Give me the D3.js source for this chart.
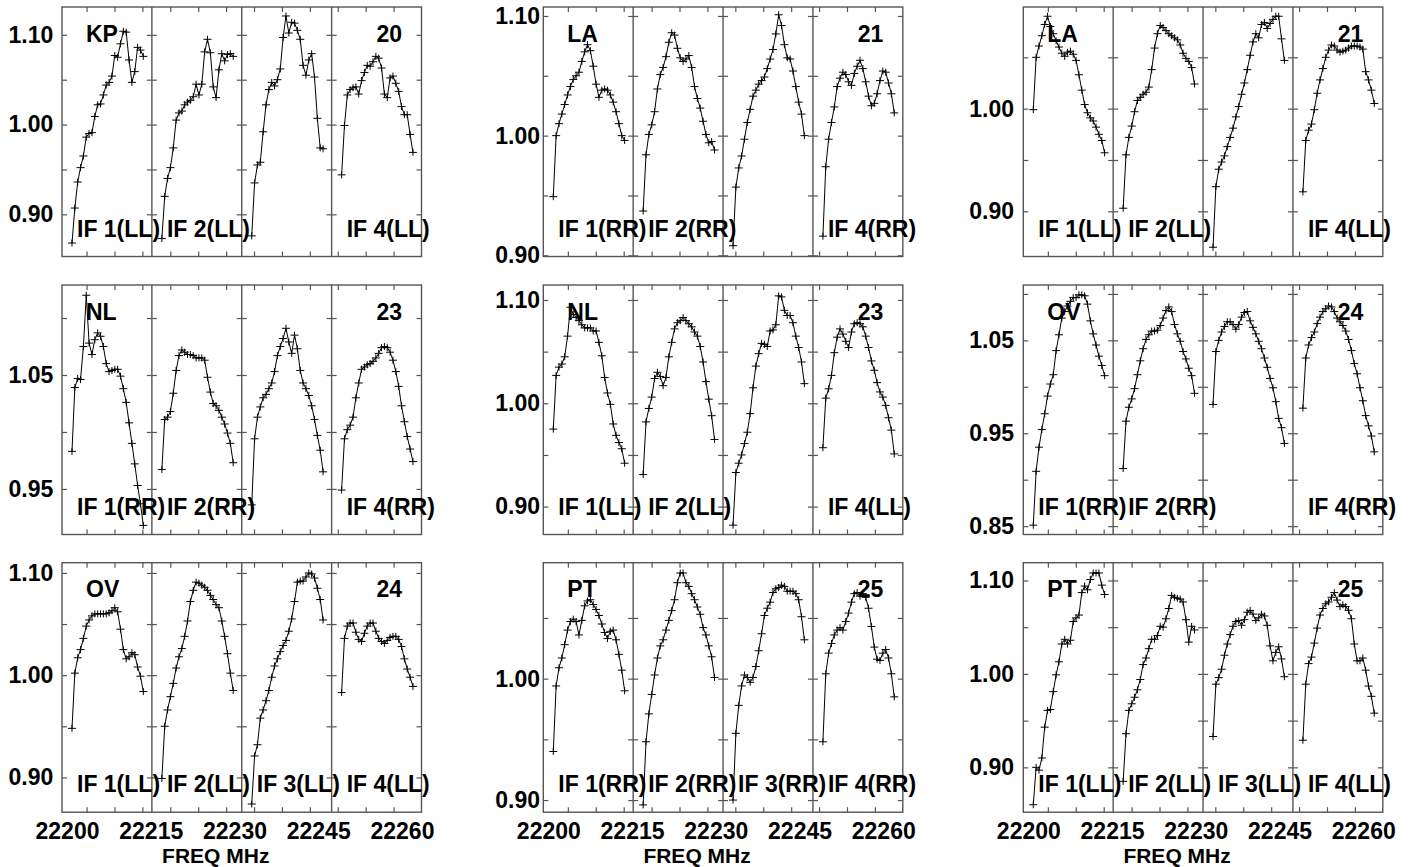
<!DOCTYPE html>
<html><head><meta charset="utf-8">
<script src="https://cdn.jsdelivr.net/npm/d3@7"></script>
<style>
html,body{margin:0;padding:0;background:#fff;}
svg{display:block;}
text{font-family:"Liberation Sans",Arial,Helvetica,sans-serif;font-weight:bold;font-size:23px;fill:#000;}
</style></head><body>
<svg id="chart" width="1417" height="867"></svg>
<script>
// ---------- data ----------
const channels = [3,4,5,6,7,8,9,10,11,12,13,14,15,16,17,18,19,20,21,22,23,24,25,26,27,28];
const stations = ["KP","LA","LA","NL","NL","OV","OV","PT","PT"];
const antNums  = ["20","21","21","23","23","24","24","25","25"];
const pols     = ["LL","RR","LL","RR","LL","RR","LL","RR","LL"];
const ifNames  = ["IF 1","IF 2","IF 3","IF 4"];
const showIF3  = [false,false,false,false,false,false,true,true,true];
const yMin = [0.853, 0.899, 0.856, 0.910, 0.873, 0.841, 0.866, 0.890, 0.852];
const yMax = [1.131, 1.1075, 1.099, 1.129, 1.1145, 1.1096, 1.110, 1.0955, 1.119];
const yTickLabels = [
  [0.90,1.00,1.10],[0.90,1.00,1.10],[0.90,1.00],
  [0.95,1.05],[0.90,1.00,1.10],[0.85,0.95,1.05],
  [0.90,1.00,1.10],[0.90,1.00],[0.90,1.00,1.10]
];
const yTickMarks = [0.85,0.90,0.95,1.00,1.05,1.10];
const freqDomain = [22199.1, 22263.5];
const xTickLabels = [22200, 22215, 22230, 22245, 22260];
const xTickMarks = [22203.5,22208.5,22213.5,22218.5,22223.5,22228.5,22233.5,22238.5,22243.5,22248.5,22253.5,22258.5];
const xTitle = "FREQ MHz";

// KP 20 LL
const kp_if1 = [0.868,0.907,0.936,0.952,0.965,0.986,0.990,0.991,1.009,1.022,1.023,1.033,1.044,1.047,1.054,1.077,1.075,1.090,1.104,1.103,1.072,1.047,1.059,1.086,1.083,1.076];
const kp_if2 = [0.873,0.920,0.940,0.952,0.974,1.005,1.013,1.015,1.022,1.025,1.027,1.031,1.045,1.033,1.045,1.081,1.095,1.080,1.042,1.030,1.061,1.079,1.071,1.078,1.079,1.076];
const kp_if3 = [0.876,0.935,0.955,0.958,0.992,1.022,1.039,1.047,1.043,1.050,1.062,1.097,1.121,1.102,1.114,1.113,1.105,1.095,1.066,1.055,1.072,1.079,1.053,1.007,0.974,0.973];
const kp_if4 = [0.944,0.999,1.033,1.039,1.041,1.042,1.034,1.049,1.058,1.066,1.065,1.070,1.076,1.074,1.063,1.034,1.030,1.052,1.054,1.046,1.037,1.020,1.011,1.011,0.989,0.969];
// LA 21 RR
const larr_if1 = [0.949,1.000,1.010,1.018,1.026,1.034,1.041,1.047,1.050,1.053,1.062,1.070,1.076,1.071,1.058,1.043,1.032,1.038,1.039,1.038,1.034,1.028,1.020,1.010,1.000,0.996];
const larr_if2 = [0.937,0.984,1.001,1.009,1.020,1.039,1.051,1.057,1.066,1.078,1.086,1.084,1.073,1.065,1.062,1.064,1.067,1.057,1.041,1.031,1.023,1.012,1.001,0.994,0.995,0.988];
const larr_if3 = [0.908,0.957,0.973,0.983,0.997,1.011,1.022,1.033,1.038,1.043,1.046,1.049,1.056,1.064,1.072,1.085,1.101,1.092,1.076,1.065,1.064,1.054,1.041,1.028,1.018,1.000];
const larr_if4 = [0.916,0.974,0.997,1.011,1.024,1.041,1.048,1.053,1.051,1.045,1.042,1.052,1.058,1.063,1.056,1.045,1.033,1.025,1.027,1.035,1.046,1.054,1.053,1.044,1.035,1.019];
// LA 21 LL
const lall_if1 = [0.999,1.050,1.061,1.071,1.082,1.090,1.080,1.073,1.066,1.060,1.054,1.051,1.055,1.056,1.053,1.047,1.033,1.018,1.004,0.996,0.991,0.988,0.982,0.975,0.969,0.957];
const lall_if2 = [0.903,0.955,0.972,0.983,0.997,1.008,1.011,1.014,1.016,1.021,1.038,1.059,1.073,1.081,1.079,1.076,1.073,1.071,1.069,1.067,1.062,1.054,1.049,1.046,1.040,1.024];
const lall_if3 = [0.865,0.924,0.941,0.948,0.954,0.963,0.972,0.981,0.992,1.002,1.014,1.025,1.038,1.052,1.065,1.073,1.069,1.082,1.084,1.078,1.083,1.087,1.090,1.090,1.068,1.047];
const lall_if4 = [0.919,0.969,0.979,0.985,0.999,1.015,1.028,1.039,1.050,1.057,1.062,1.061,1.057,1.055,1.056,1.057,1.059,1.061,1.061,1.061,1.060,1.058,1.036,1.028,1.018,1.005];
// NL 23 RR
const nlrr_if1 = [0.983,1.039,1.047,1.046,1.075,1.120,1.078,1.068,1.081,1.087,1.084,1.075,1.060,1.053,1.054,1.055,1.055,1.049,1.038,1.026,1.008,0.990,0.972,0.953,0.937,0.918];
const nlrr_if2 = [0.967,1.011,1.013,1.018,1.034,1.054,1.067,1.072,1.070,1.068,1.068,1.067,1.065,1.065,1.065,1.063,1.048,1.035,1.025,1.023,1.019,1.013,1.007,0.999,0.990,0.973];
const nlrr_if3 = [0.936,0.994,1.013,1.022,1.030,1.033,1.038,1.043,1.053,1.067,1.075,1.082,1.091,1.079,1.069,1.085,1.073,1.054,1.043,1.038,1.032,1.023,1.011,0.997,0.984,0.965];
const nlrr_if4 = [0.949,0.994,1.002,1.006,1.013,1.030,1.043,1.055,1.057,1.059,1.060,1.062,1.065,1.069,1.074,1.075,1.074,1.070,1.063,1.053,1.040,1.023,1.009,0.996,0.985,0.974];
// NL 23 LL
const nlll_if1 = [0.975,1.027,1.035,1.038,1.045,1.065,1.093,1.086,1.083,1.080,1.076,1.073,1.073,1.073,1.070,1.070,1.059,1.046,1.025,1.010,0.999,0.980,0.969,0.962,0.956,0.942];
const nlll_if2 = [0.931,0.982,0.995,1.006,1.024,1.030,1.026,1.017,1.025,1.045,1.059,1.072,1.078,1.080,1.083,1.080,1.077,1.074,1.069,1.065,1.055,1.040,1.021,1.004,0.988,0.965];
const nlll_if3 = [0.882,0.933,0.942,0.950,0.961,0.972,0.990,1.015,1.036,1.048,1.058,1.057,1.055,1.070,1.071,1.076,1.104,1.103,1.090,1.085,1.085,1.078,1.065,1.054,1.040,1.019];
const nlll_if4 = [0.957,1.005,1.014,1.027,1.049,1.064,1.072,1.067,1.060,1.054,1.069,1.077,1.078,1.077,1.074,1.065,1.054,1.041,1.032,1.020,1.011,1.006,0.998,0.986,0.974,0.951];
// OV 24 RR
const ovrr_if1 = [0.851,0.909,0.935,0.954,0.971,0.990,1.003,1.013,1.039,1.056,1.074,1.081,1.087,1.092,1.096,1.096,1.099,1.099,1.098,1.089,1.071,1.057,1.045,1.033,1.023,1.012];
const ovrr_if2 = [0.912,0.963,0.978,0.987,0.998,1.013,1.028,1.041,1.051,1.056,1.060,1.060,1.061,1.066,1.074,1.082,1.086,1.081,1.067,1.057,1.049,1.038,1.030,1.020,1.012,0.993];
const ovrr_if3 = [0.981,1.038,1.050,1.059,1.065,1.070,1.070,1.067,1.062,1.067,1.075,1.080,1.081,1.071,1.064,1.057,1.049,1.041,1.031,1.021,1.009,0.999,0.984,0.966,0.956,0.939];
const ovrr_if4 = [0.977,1.031,1.045,1.053,1.059,1.068,1.075,1.081,1.084,1.087,1.086,1.081,1.074,1.070,1.066,1.060,1.051,1.039,1.025,1.014,0.999,0.985,0.969,0.958,0.947,0.930];
// OV 24 LL
const ovll_if1 = [0.948,1.002,1.017,1.025,1.036,1.048,1.054,1.058,1.060,1.060,1.060,1.060,1.060,1.061,1.063,1.066,1.062,1.045,1.025,1.016,1.018,1.022,1.020,1.008,0.999,0.984];
const ovll_if2 = [0.899,0.950,0.966,0.979,0.992,1.007,1.018,1.026,1.038,1.053,1.072,1.083,1.091,1.090,1.088,1.086,1.083,1.078,1.074,1.069,1.066,1.053,1.038,1.021,1.002,0.985];
const ovll_if3 = [0.874,0.921,0.932,0.958,0.966,0.975,0.985,0.998,1.009,1.016,1.023,1.029,1.034,1.043,1.055,1.072,1.091,1.092,1.092,1.096,1.100,1.099,1.095,1.085,1.074,1.054];
const ovll_if4 = [0.983,1.036,1.048,1.051,1.051,1.042,1.035,1.033,1.041,1.048,1.051,1.051,1.043,1.036,1.033,1.031,1.034,1.037,1.038,1.038,1.035,1.028,1.016,1.006,0.998,0.989];
// PT 25 RR
const ptrr_if1 = [0.940,0.994,1.009,1.017,1.028,1.040,1.047,1.049,1.047,1.036,1.048,1.060,1.064,1.065,1.061,1.057,1.052,1.045,1.038,1.033,1.039,1.040,1.032,1.020,1.007,0.990];
const ptrr_if2 = [0.896,0.948,0.971,0.987,1.003,1.017,1.027,1.032,1.040,1.048,1.056,1.065,1.079,1.087,1.087,1.079,1.076,1.070,1.065,1.059,1.053,1.042,1.036,1.027,1.018,1.001];
const ptrr_if3 = [0.900,0.955,0.978,0.994,1.003,1.001,0.997,1.001,1.010,1.023,1.037,1.052,1.058,1.063,1.071,1.074,1.075,1.077,1.076,1.072,1.072,1.072,1.070,1.065,1.051,1.032];
const ptrr_if4 = [0.948,1.004,1.021,1.029,1.036,1.040,1.042,1.040,1.047,1.054,1.063,1.070,1.071,1.068,1.070,1.067,1.058,1.043,1.026,1.016,1.015,1.021,1.024,1.017,1.004,0.985];
// PT 25 LL
const ptll_if1 = [0.860,0.900,0.897,0.910,0.943,0.961,0.962,0.981,0.999,1.013,1.032,1.037,1.032,1.036,1.056,1.060,1.063,1.087,1.094,1.090,1.101,1.108,1.108,1.108,1.095,1.085];
const ptll_if2 = [0.885,0.936,0.961,0.968,0.975,0.983,0.994,1.010,1.017,1.027,1.037,1.037,1.041,1.051,1.050,1.059,1.070,1.084,1.082,1.081,1.080,1.077,1.058,1.034,1.051,1.047];
const ptll_if3 = [0.933,0.989,0.996,1.005,1.020,1.032,1.042,1.051,1.056,1.057,1.052,1.058,1.066,1.068,1.064,1.057,1.060,1.064,1.062,1.052,1.030,1.014,1.023,1.029,1.016,0.997];
const ptll_if4 = [0.929,0.989,1.011,1.018,1.033,1.049,1.063,1.070,1.075,1.077,1.082,1.087,1.079,1.072,1.074,1.072,1.068,1.059,1.032,1.014,1.014,1.017,1.004,0.987,0.976,0.958];

const panelSeries = [
  [kp_if1,kp_if2,kp_if3,kp_if4],
  [larr_if1,larr_if2,larr_if3,larr_if4],
  [lall_if1,lall_if2,lall_if3,lall_if4],
  [nlrr_if1,nlrr_if2,nlrr_if3,nlrr_if4],
  [nlll_if1,nlll_if2,nlll_if3,nlll_if4],
  [ovrr_if1,ovrr_if2,ovrr_if3,ovrr_if4],
  [ovll_if1,ovll_if2,ovll_if3,ovll_if4],
  [ptrr_if1,ptrr_if2,ptrr_if3,ptrr_if4],
  [ptll_if1,ptll_if2,ptll_if3,ptll_if4]
];

// ---------- layout ----------
const colLeft = [62, 543.3, 1023.3];
const rowTop = [7, 285, 562.7];
const PW = 359.5, PH = 249.5;
const labelRight = [53.3, 540, 1014];
const frameColor = "#555";
const TICK = 5;

const svg = d3.select("#chart");
const FONT = '"Liberation Sans", Arial, Helvetica, sans-serif';

function styleAxis(g, withText, size) {
  g.select(".domain").remove();
  g.selectAll(".tick line").attr("stroke", frameColor).attr("stroke-width", 1.2);
  if (withText) {
    g.selectAll("text").attr("font-family", FONT).attr("font-weight", "bold")
      .attr("font-size", size || 23).style("font-size", (size || 23) + "px").attr("fill", "#000");
  }
}

panelSeries.forEach((series, p) => {
  const col = p % 3, row = Math.floor(p / 3);
  const x0 = colLeft[col], y0 = rowTop[row];
  const g = svg.append("g").attr("transform", `translate(${x0},${y0})`);
  const y = d3.scaleLinear().domain([yMin[p], yMax[p]]).range([PH, 0]);
  const xf = d3.scaleLinear().domain(freqDomain).range([0, PW]);
  const subW = PW / 4;
  const marks = yTickMarks.filter(v => v >= yMin[p] - 1e-6 && v <= yMax[p] + 1e-6);

  // y tick marks on both sides of every sub-panel
  for (let k = 0; k < 4; k++) {
    g.append("g").attr("transform", `translate(${k * subW},0)`)
      .call(d3.axisLeft(y).tickValues(marks).tickSize(-TICK).tickFormat(""))
      .call(a => styleAxis(a, false));
    g.append("g").attr("transform", `translate(${(k + 1) * subW},0)`)
      .call(d3.axisRight(y).tickValues(marks).tickSize(-TICK).tickFormat(""))
      .call(a => styleAxis(a, false));
  }
  // x tick marks top & bottom
  g.append("g").attr("transform", `translate(0,${PH})`)
    .call(d3.axisBottom(xf).tickValues(xTickMarks).tickSize(-TICK).tickFormat(""))
    .call(a => styleAxis(a, false));
  g.append("g")
    .call(d3.axisTop(xf).tickValues(xTickMarks).tickSize(-TICK).tickFormat(""))
    .call(a => styleAxis(a, false));

  // y labels
  g.append("g")
    .call(d3.axisLeft(y).tickValues(yTickLabels[p]).tickSize(0)
      .tickPadding(x0 - labelRight[col]).tickFormat(d3.format(".2f")))
    .call(a => styleAxis(a, true));

  // x labels on bottom row
  if (row === 2) {
    const ax = g.append("g").attr("transform", `translate(0,${PH})`)
      .call(d3.axisBottom(xf).tickValues(xTickLabels).tickSize(0)
        .tickPadding(0).tickFormat(d3.format("d")))
      .call(a => styleAxis(a, true));
    ax.selectAll("text").attr("y", 26.8).attr("dy", null);
    g.append("text").attr("x", PW / 2 - 26).attr("y", PH + 50.8)
      .attr("text-anchor", "middle").style("font-size", "21px").text(xTitle);
  }

  // frame and dividers
  g.append("rect").attr("x", 0).attr("y", 0).attr("width", PW).attr("height", PH)
    .attr("fill", "none").attr("stroke", frameColor).attr("stroke-width", 1.4);
  for (let k = 1; k < 4; k++) {
    g.append("line").attr("x1", k * subW).attr("x2", k * subW)
      .attr("y1", 0).attr("y2", PH)
      .attr("stroke", frameColor).attr("stroke-width", 1.4);
  }

  // data
  series.forEach((vals, k) => {
    const xs = d3.scaleLinear().domain([-0.5, 31]).range([k * subW, (k + 1) * subW]);
    const pts = channels.map((c, i) => [xs(c), y(vals[i])]);
    g.append("path").attr("d", d3.line()(pts))
      .attr("fill", "none").attr("stroke", "#000").attr("stroke-width", 1);
    g.append("g").selectAll("path").data(pts).join("path")
      .attr("transform", d => `translate(${d[0]},${d[1]})`)
      .attr("d", "M-4,0H4M0,-3.5V3.5")
      .attr("stroke", "#000").attr("stroke-width", 1).attr("fill", "none");

    if (k !== 2 || showIF3[p]) {
      g.append("text").attr("x", k * subW + 15).attr("y", PH - 20)
        .text(`${ifNames[k]}(${pols[p]})`);
    }
  });

  // station / antenna labels
  g.append("text").attr("x", 24).attr("y", 34.5).text(stations[p]);
  g.append("text").attr("x", PW - 45).attr("y", 34.5).text(antNums[p]);
});
</script></body></html>
